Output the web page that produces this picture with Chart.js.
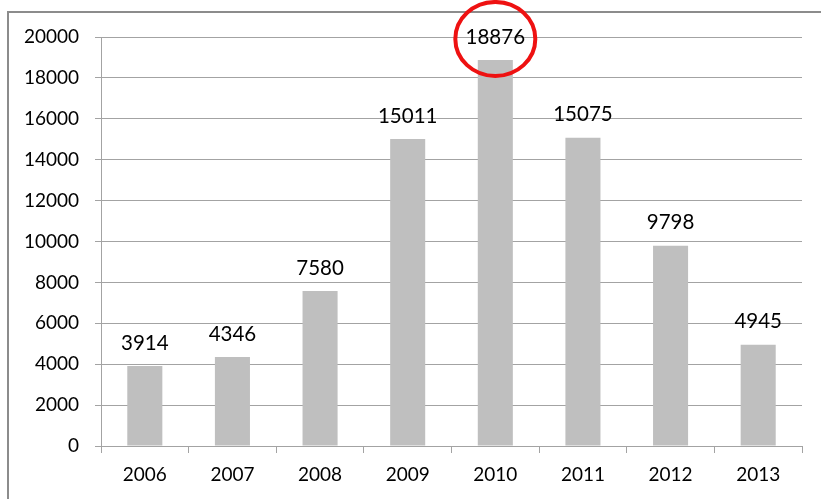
<!DOCTYPE html>
<html>
<head>
<meta charset="utf-8">
<script src="https://cdn.jsdelivr.net/npm/chart.js@4.4.0/dist/chart.umd.min.js"></script>
<style>
  html, body { margin: 0; padding: 0; background: #fff; }
  #wrap { width: 821px; height: 499px; position: relative; }
</style>
</head>
<body>
<div id="wrap"><canvas id="chart" width="821" height="499"></canvas></div>
<script>
'use strict';

// Yearly totals
var years = ['2006', '2007', '2008', '2009', '2010', '2011', '2012', '2013'];
var totals = [3914, 4346, 7580, 15011, 18876, 15075, 9798, 4945];
var yTicks = [0, 2000, 4000, 6000, 8000, 10000, 12000, 14000, 16000, 18000, 20000];
var highlightYear = '2010';

var FONT = 'Lato, "Open Sans", sans-serif';
var GRID = '#a3a3a3';
var TEXT = '#000';

// Outer frame: only the top and left edges fall inside the canvas
var framePlugin = {
	id: 'frame',
	beforeDraw: function(chart) {
		var ctx = chart.ctx;
		ctx.save();
		ctx.strokeStyle = '#8c8c8c';
		ctx.lineWidth = 2;
		ctx.beginPath();
		ctx.moveTo(8, chart.height);
		ctx.lineTo(8, 12);
		ctx.lineTo(chart.width, 12);
		ctx.stroke();
		ctx.restore();
	}
};

// Value labels above bars, plus the red ring round the highlighted one
var valueLabels = {
	id: 'valueLabels',
	afterDatasetsDraw: function(chart) {
		var ctx = chart.ctx;
		var meta = chart.getDatasetMeta(0);
		ctx.save();
		ctx.font = '20.5px ' + FONT;
		ctx.fillStyle = TEXT;
		ctx.textAlign = 'center';
		ctx.textBaseline = 'middle';
		meta.data.forEach(function(bar, i) {
			var y = bar.y - 23;
			ctx.fillText(String(totals[i]), bar.x, y);
			if (years[i] === highlightYear) {
				ctx.strokeStyle = '#ee1111';
				ctx.lineWidth = 4;
				ctx.beginPath();
				ctx.ellipse(bar.x, y + 2, 40, 37, 0, 0, Math.PI * 2);
				ctx.stroke();
			}
		});
		ctx.restore();
	}
};

new Chart(document.getElementById('chart'), {
	type: 'bar',
	data: {
		labels: years,
		datasets: [{
			data: totals,
			backgroundColor: '#bfbfbf',
			borderWidth: 0,
			categoryPercentage: 1,
			barPercentage: 0.4
		}]
	},
	options: {
		responsive: false,
		animation: false,
		layout: { padding: { top: 37, right: 19, left: 0, bottom: 0 } },
		plugins: {
			legend: { display: false },
			tooltip: { enabled: false }
		},
		scales: {
			x: {
				grid: {
					offset: true,
					drawOnChartArea: false,
					drawTicks: true,
					tickLength: 7,
					color: GRID
				},
				border: { color: GRID, width: 1 },
				ticks: {
					color: TEXT,
					font: { family: FONT, size: 19 },
					padding: 10,
					maxRotation: 0
				},
				afterFit: function(scale) { scale.height = 53; }
			},
			y: {
				min: 0,
				max: 20000,
				afterBuildTicks: function(scale) {
					scale.ticks = yTicks.map(function(v) { return { value: v }; });
				},
				grid: {
					color: GRID,
					lineWidth: 1,
					drawTicks: true,
					tickLength: 6
				},
				border: { color: GRID, width: 1 },
				ticks: {
					color: TEXT,
					font: { family: FONT, size: 19 },
					padding: 16,
					callback: function(value) { return String(value); }
				},
				afterFit: function(scale) { scale.width = 101; }
			}
		}
	},
	plugins: [framePlugin, valueLabels]
});
</script>
</body>
</html>
